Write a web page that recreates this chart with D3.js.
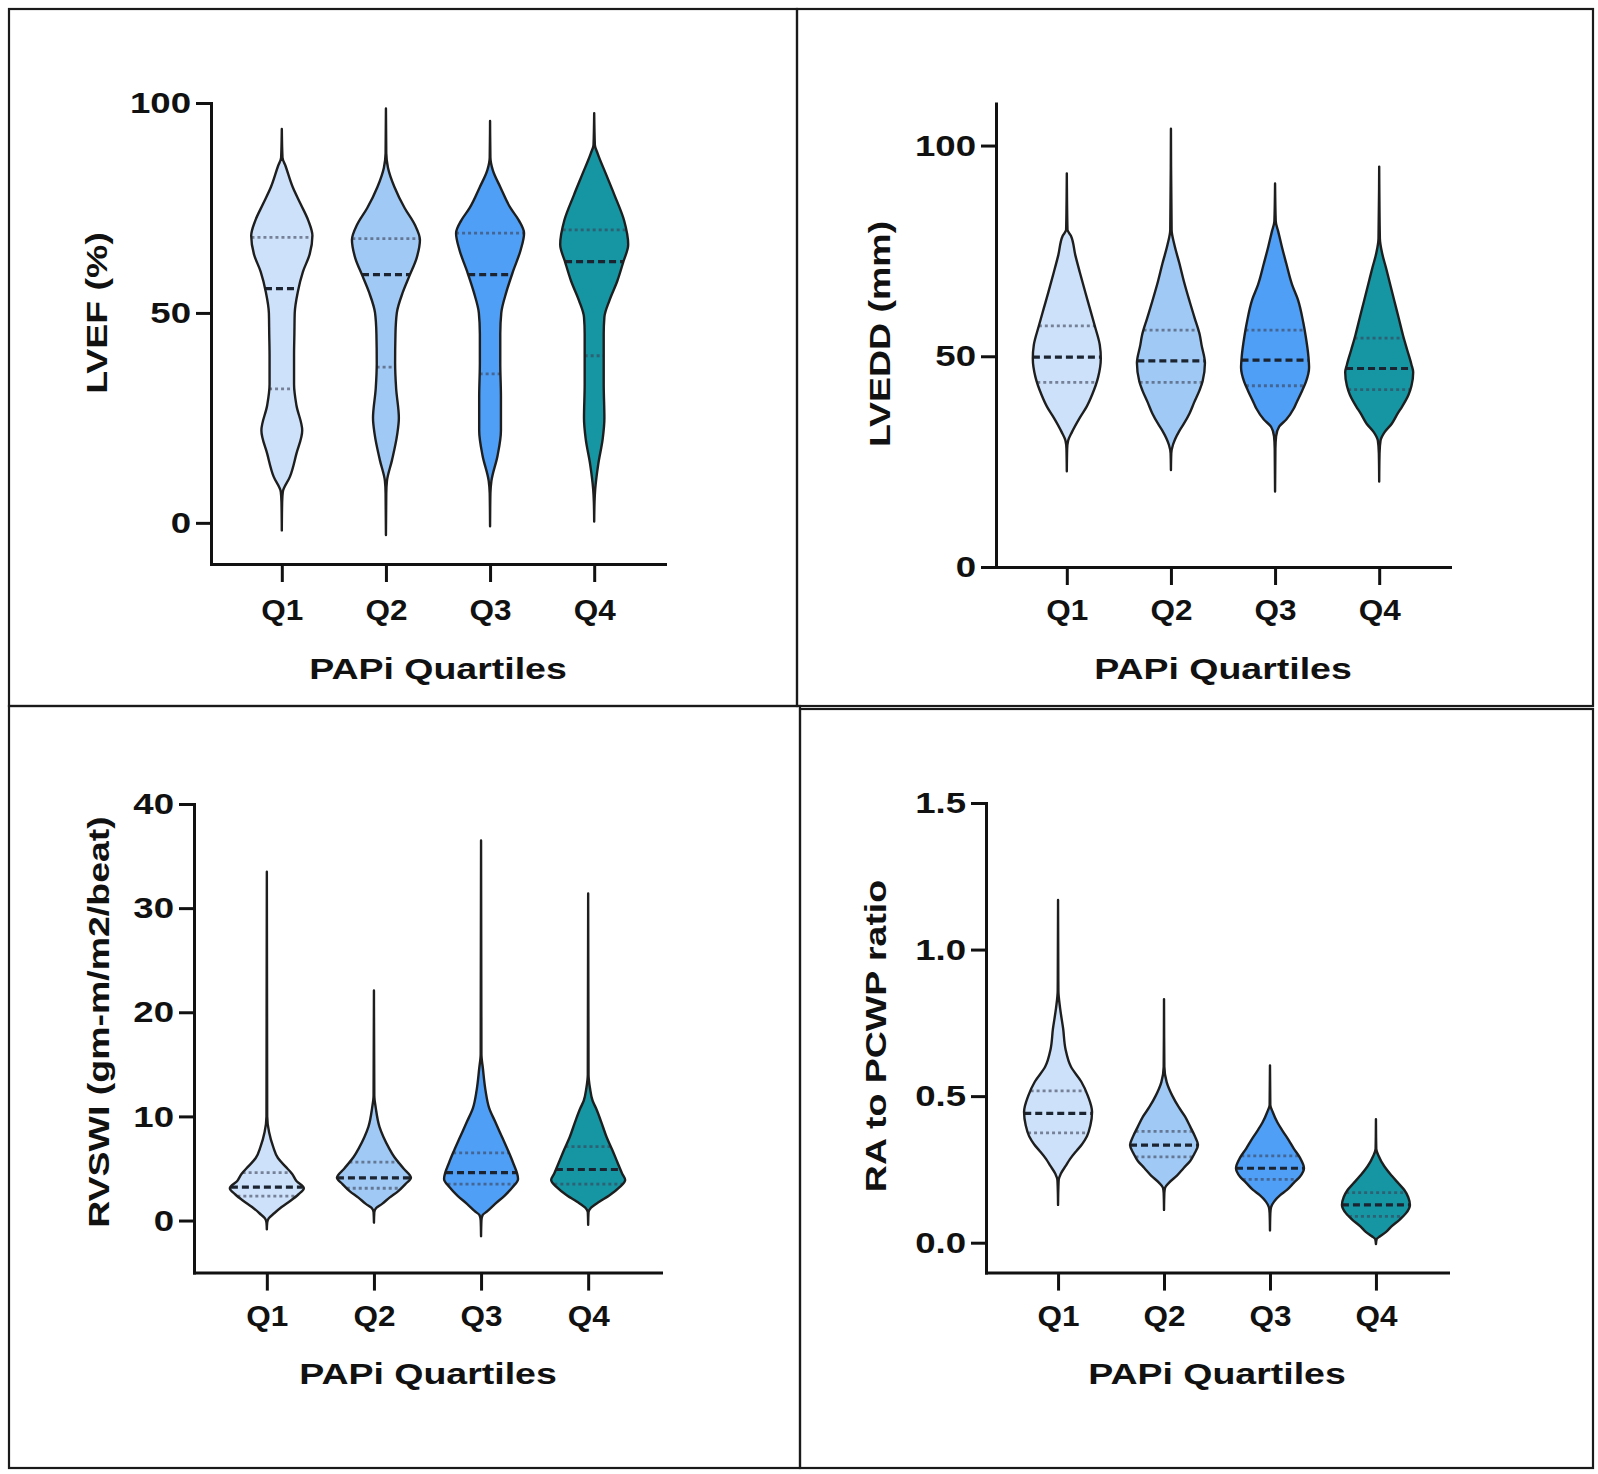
<!DOCTYPE html>
<html>
<head>
<meta charset="utf-8">
<script src="https://cdn.jsdelivr.net/npm/d3@7"></script>
<style>
  body { margin: 0; background: #fff; }
  .axis path, .axis line { stroke: #111; stroke-width: 3; }
  text { font-family: "Liberation Sans", Arial, sans-serif; font-weight: bold; fill: #111; }
</style>
</head>
<body>
<div id="chart"></div>
<script>
// categories + fill colours for each quartile group
var quartiles = ["Q1", "Q2", "Q3", "Q4"];
var violinColors = ["#cde2fa", "#a0caf5", "#4f9ff6", "#1695a3"];

// violin outlines: [value, relative width], top to bottom
var lvefProfiles = [
  [[93.8, 0], [87, 0.02], [85, 0.11], [80, 0.32], [76, 0.55], [72, 0.78], [68.4, 0.9], [64, 0.82], [59.8, 0.62], [55, 0.47], [50, 0.38], [45, 0.37], [40, 0.36], [33, 0.36], [28, 0.43], [22, 0.6], [16.5, 0.43], [11, 0.24], [7.4, 0.03], [5, 0.01], [-1.8, 0]],
  [[98.7, 0], [88, 0.01], [84.6, 0.06], [80, 0.25], [75, 0.55], [71, 0.85], [67.4, 1.0], [63, 0.9], [59, 0.7], [55, 0.5], [50, 0.32], [45, 0.28], [38, 0.27], [32, 0.3], [25, 0.38], [21, 0.33], [15, 0.18], [10, 0.03], [7, 0.01], [-2.9, 0]],
  [[95.7, 0], [87, 0.01], [84, 0.08], [80, 0.3], [75, 0.6], [72, 0.85], [69, 1.0], [65, 0.9], [60, 0.68], [55, 0.48], [50, 0.33], [45, 0.3], [38, 0.3], [30, 0.32], [22, 0.32], [16, 0.22], [10, 0.04], [7, 0.01], [-0.8, 0]],
  [[97.6, 0], [90, 0.02], [88, 0.1], [83, 0.35], [78, 0.6], [72, 0.88], [66.3, 1.0], [62, 0.85], [57.6, 0.68], [53, 0.45], [49, 0.3], [45, 0.28], [40, 0.28], [33, 0.28], [25, 0.3], [20, 0.25], [14, 0.12], [8, 0.03], [5, 0.01], [0.3, 0]]
];
// [lower quartile, median, upper quartile]
var lvefStats = [[31.9, 55.8, 68], [37.1, 59.1, 67.7], [35.5, 59.1, 69], [39.8, 62.2, 69.8]];
var lvefTicks = [0, 50, 100];

var lveddProfiles = [
  [[93.4, 0], [80, 0.02], [78.6, 0.12], [74, 0.25], [70, 0.38], [65, 0.55], [61.3, 0.68], [57, 0.83], [52.7, 0.97], [49.5, 1.0], [45, 0.92], [41, 0.75], [38, 0.58], [35.4, 0.38], [32, 0.15], [30, 0.04], [28, 0.01], [22.7, 0]],
  [[104, 0], [80, 0.02], [76.5, 0.1], [72, 0.25], [67.8, 0.38], [63, 0.55], [59, 0.7], [55, 0.85], [52.7, 0.9], [48.4, 1.0], [44, 0.93], [41.9, 0.84], [39, 0.68], [36.5, 0.55], [34, 0.38], [32.2, 0.24], [29, 0.06], [27, 0.01], [23, 0]],
  [[91, 0], [82, 0.02], [79.7, 0.09], [76, 0.2], [72, 0.33], [67, 0.5], [63.5, 0.67], [58, 0.83], [54.8, 0.9], [50, 0.98], [47.3, 1.0], [44, 0.91], [41.9, 0.8], [39, 0.63], [37.6, 0.55], [35, 0.33], [33.3, 0.12], [31, 0.03], [28, 0.01], [17.9, 0]],
  [[95, 0], [78, 0.02], [74.3, 0.09], [71, 0.2], [67.8, 0.3], [63, 0.45], [59.2, 0.57], [55, 0.7], [51.6, 0.82], [48, 0.95], [46.2, 1.0], [43, 0.95], [40.8, 0.86], [38, 0.67], [36.5, 0.55], [34, 0.37], [32, 0.16], [30, 0.04], [27, 0.01], [20.3, 0]]
];
var lveddStats = [[43.8, 49.8, 57.2], [43.8, 48.9, 56.2], [43, 49.1, 56.2], [42.1, 47.1, 54.3]];
var lveddTicks = [0, 50, 100];

var rvswiProfiles = [
  [[33.5, 0], [10, 0.01], [8.5, 0.06], [7.1, 0.17], [6, 0.3], [5.2, 0.5], [4.5, 0.68], [3.8, 0.8], [3.1, 1.0], [2.5, 0.85], [1.9, 0.64], [1.3, 0.4], [0.7, 0.2], [0.2, 0.05], [-0.2, 0.01], [-0.85, 0]],
  [[22.1, 0], [12, 0.01], [10.8, 0.05], [9, 0.15], [8, 0.26], [7, 0.4], [6.1, 0.55], [5, 0.8], [4.1, 1.0], [3.5, 0.85], [2.8, 0.65], [2.2, 0.42], [1.6, 0.22], [1.2, 0.06], [0.8, 0.01], [-0.2, 0]],
  [[36.5, 0], [16, 0.01], [14.6, 0.05], [12.5, 0.12], [10.8, 0.22], [9.5, 0.38], [8, 0.57], [6.8, 0.72], [5.6, 0.86], [4, 1.0], [3.2, 0.85], [2.4, 0.64], [1.6, 0.38], [0.9, 0.17], [0.5, 0.04], [0, 0.01], [-1.5, 0]],
  [[31.4, 0], [14, 0.01], [12.7, 0.05], [11.5, 0.12], [10.8, 0.21], [9.5, 0.35], [8, 0.5], [6.8, 0.65], [5.6, 0.79], [4.5, 0.92], [3.9, 1.0], [3.2, 0.85], [2.4, 0.57], [1.8, 0.3], [1.2, 0.07], [0.8, 0.01], [-0.4, 0]]
];
var rvswiStats = [[2.35, 3.2, 4.6], [3.1, 4.1, 5.6], [3.5, 4.6, 6.5], [3.5, 4.9, 7.1]];
var rvswiTicks = [0, 10, 20, 30, 40];

var raPcwpProfiles = [
  [[1.169, 0], [0.86, 0.01], [0.8, 0.06], [0.73, 0.15], [0.66, 0.22], [0.6, 0.38], [0.55, 0.68], [0.5, 0.88], [0.446, 1.0], [0.4, 0.95], [0.363, 0.85], [0.335, 0.7], [0.313, 0.54], [0.285, 0.35], [0.263, 0.23], [0.235, 0.08], [0.215, 0.02], [0.19, 0.01], [0.129, 0]],
  [[0.831, 0], [0.6, 0.01], [0.547, 0.08], [0.5, 0.25], [0.463, 0.43], [0.43, 0.62], [0.396, 0.77], [0.36, 0.92], [0.333, 1.0], [0.305, 0.9], [0.279, 0.77], [0.255, 0.58], [0.229, 0.38], [0.205, 0.15], [0.187, 0.03], [0.17, 0.01], [0.112, 0]],
  [[0.605, 0], [0.47, 0.01], [0.446, 0.08], [0.41, 0.22], [0.38, 0.38], [0.35, 0.55], [0.321, 0.7], [0.29, 0.88], [0.254, 1.0], [0.225, 0.88], [0.204, 0.7], [0.18, 0.5], [0.162, 0.3], [0.14, 0.12], [0.12, 0.03], [0.1, 0.01], [0.042, 0]],
  [[0.421, 0], [0.32, 0.01], [0.296, 0.08], [0.26, 0.25], [0.229, 0.46], [0.2, 0.68], [0.179, 0.84], [0.155, 0.95], [0.129, 1.0], [0.1, 0.88], [0.079, 0.7], [0.055, 0.45], [0.037, 0.3], [0.022, 0.12], [0.012, 0.02], [-0.005, 0]]
];
var raPcwpStats = [[0.375, 0.441, 0.518], [0.293, 0.333, 0.38], [0.216, 0.254, 0.296], [0.09, 0.129, 0.171]];
var raPcwpTicks = [0, 0.5, 1.0, 1.5];

// layout of the four boxes (page pixels)
var panels = [
  { profiles: lvefProfiles, stats: lvefStats, ticks: lvefTicks, fmt: d3.format("d"), yTitle: "LVEF (%)",
    box: [9, 9, 797, 706], xRange: [211, 665], yDomain: [-9.8, 100], yRange: [564, 103], halfWidth: 34,
    qPad: 17, xTitlePos: [438, 679], yTitlePos: [107, 313] },
  { profiles: lveddProfiles, stats: lveddStats, ticks: lveddTicks, fmt: d3.format("d"), yTitle: "LVEDD (mm)",
    box: [797, 9, 1593, 706], xRange: [996, 1450], yDomain: [0, 110], yRange: [567, 103.4], halfWidth: 34,
    qPad: 14, xTitlePos: [1223, 679], yTitlePos: [890, 334] },
  { profiles: rvswiProfiles, stats: rvswiStats, ticks: rvswiTicks, fmt: d3.format("d"), yTitle: "RVSWI (gm-m/m2/beat)",
    box: [9, 706, 800, 1468], xRange: [194, 661], yDomain: [-5, 40], yRange: [1272.6, 804], halfWidth: 37,
    qPad: 14, xTitlePos: [428, 1384], yTitlePos: [109, 1022] },
  { profiles: raPcwpProfiles, stats: raPcwpStats, ticks: raPcwpTicks, fmt: d3.format(".1f"), yTitle: "RA to PCWP ratio",
    box: [800, 709, 1593, 1468], xRange: [986, 1448], yDomain: [-0.102, 1.5], yRange: [1272.6, 803], halfWidth: 34,
    qPad: 14, xTitlePos: [1217, 1384], yTitlePos: [886, 1036] }
];

var fontSize = 30;
var tickStretch = 1.05;   // Q labels
var numberStretch = 1.22; // y tick numbers
var titleStretch = 1.25;  // glyphs in the figure are wider than Arial

var svg = d3.select("#chart")
  .append("svg")
  .attr("width", 1598)
  .attr("height", 1474);

// width of a violin at value v (linear between profile points)
function widthAt(profile, v) {
  for (var i = 0; i < profile.length - 1; i++) {
    var a = profile[i], b = profile[i + 1];
    if (v <= a[0] && v >= b[0]) {
      var t = (a[0] - v) / (a[0] - b[0]);
      return a[1] + t * (b[1] - a[1]);
    }
  }
  return 0;
}

function drawPanel(p) {
  // box border
  svg.append("rect")
    .attr("x", p.box[0]).attr("y", p.box[1])
    .attr("width", p.box[2] - p.box[0]).attr("height", p.box[3] - p.box[1])
    .attr("fill", "none").attr("stroke", "#1a1a1a").attr("stroke-width", 2.2);

  var y = d3.scaleLinear().domain(p.yDomain).range(p.yRange);
  var x = d3.scalePoint().domain(quartiles).range(p.xRange).padding(0.68);
  var w = d3.scaleLinear().domain([0, 1]).range([0, p.halfWidth]);

  var area = d3.area()
    .y(function (d) { return y(d[0]); })
    .curve(d3.curveMonotoneY);

  p.profiles.forEach(function (profile, i) {
    var cx = x(quartiles[i]);
    var g = svg.append("g").attr("class", "violin");
    area.x0(function (d) { return cx - w(d[1]); })
        .x1(function (d) { return cx + w(d[1]); });

    g.append("path")
      .attr("d", area(profile))
      .attr("fill", violinColors[i]);

    // quartile lines (dotted) and median (dashed)
    p.stats[i].forEach(function (v, k) {
      var hw = w(widthAt(profile, v));
      g.append("line")
        .attr("x1", cx - hw).attr("x2", cx + hw)
        .attr("y1", y(v)).attr("y2", y(v))
        .attr("stroke", k == 1 ? "#1b2430" : "rgba(60,65,85,0.6)")
        .attr("stroke-width", k == 1 ? 3.2 : 2.8)
        .attr("stroke-dasharray", k == 1 ? "7,4" : "3,3");
    });

    g.append("path")
      .attr("d", area(profile))
      .attr("fill", "none")
      .attr("stroke", "#1e1e1e")
      .attr("stroke-width", 2.4)
      .attr("stroke-linejoin", "round");
  });

  // y axis
  var yAxis = svg.append("g")
    .attr("class", "axis")
    .attr("transform", "translate(" + p.xRange[0] + ",0)")
    .call(d3.axisLeft(y).tickValues(p.ticks).tickFormat(p.fmt).tickSize(15).tickSizeOuter(0));
  yAxis.selectAll(".tick text")
    .attr("font-size", fontSize)
    .attr("x", -20 / numberStretch)
    .attr("transform", "scale(" + numberStretch + ",1)");

  // x axis
  var baseY = y(p.yDomain[0]);
  var xAxis = svg.append("g")
    .attr("class", "axis")
    .attr("transform", "translate(0," + baseY + ")")
    .call(d3.axisBottom(x).tickSize(18).tickSizeOuter(0).tickPadding(p.qPad));
  xAxis.selectAll(".tick text")
    .attr("font-size", fontSize)
    .attr("transform", "scale(" + tickStretch + ",1)");
  xAxis.select(".domain").attr("stroke-linecap", "square");
  yAxis.select(".domain").attr("stroke-linecap", "square");

  // titles
  svg.append("text")
    .attr("transform", "translate(" + p.xTitlePos[0] + "," + p.xTitlePos[1] + ") scale(" + titleStretch + ",1)")
    .attr("text-anchor", "middle")
    .attr("font-size", fontSize)
    .text("PAPi Quartiles");

  svg.append("text")
    .attr("transform", "translate(" + p.yTitlePos[0] + "," + p.yTitlePos[1] + ") rotate(-90) scale(" + titleStretch + ",1)")
    .attr("text-anchor", "middle")
    .attr("font-size", fontSize)
    .text(p.yTitle);
}

panels.forEach(drawPanel);
</script>
</body>
</html>
